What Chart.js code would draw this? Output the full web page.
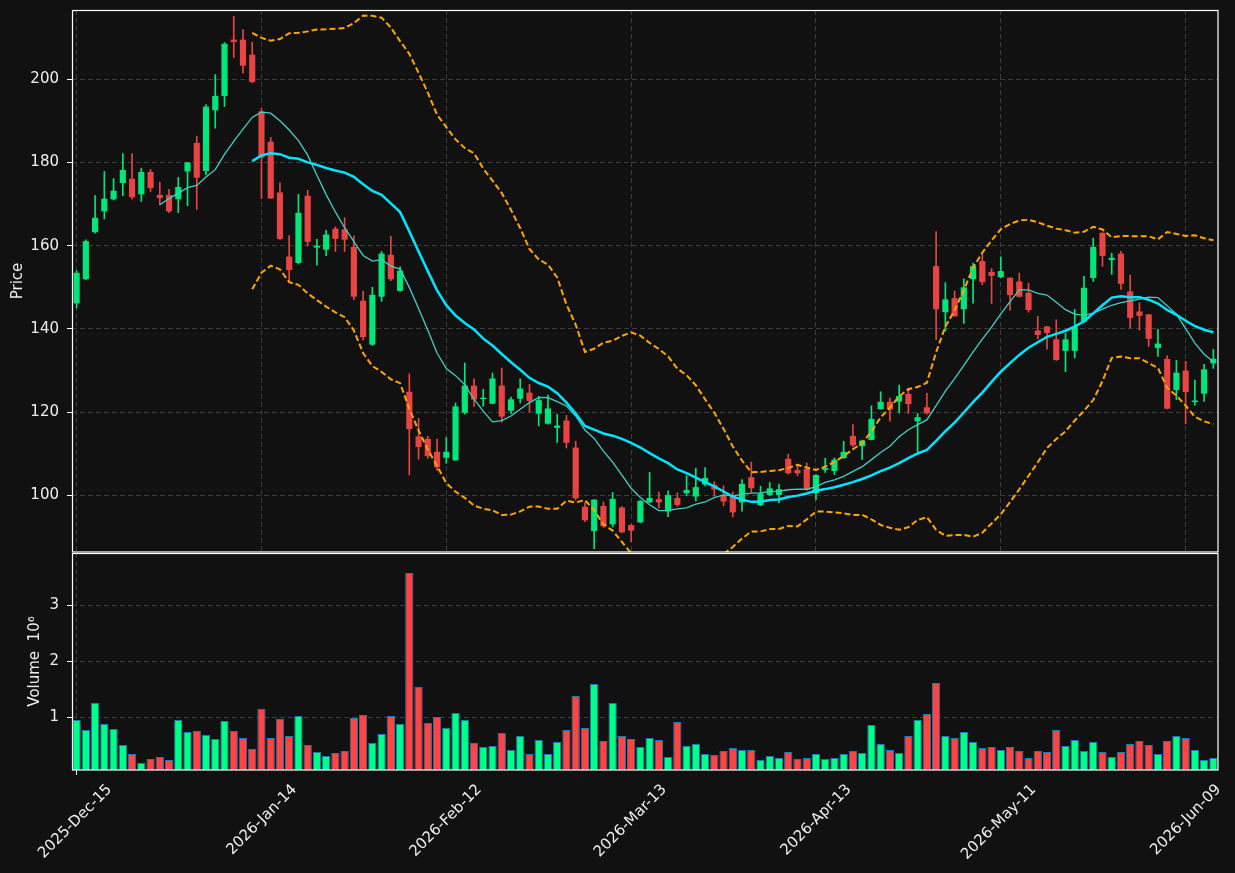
<!DOCTYPE html>
<html>
<head>
<meta charset="utf-8">
<script src="https://cdn.jsdelivr.net/npm/chart.js@4.4.1/dist/chart.umd.min.js"></script>
<style>
html, body { margin: 0; padding: 0; background: #111111; }
#wrap { position: relative; width: 1235px; height: 873px; }
canvas { position: absolute; left: 0; }
#price { top: 0; }
#volume { top: 553px; }
</style>
</head>
<body>
<div id="wrap">
  <canvas id="price" width="1235" height="553"></canvas>
  <canvas id="volume" width="1235" height="320"></canvas>
</div>
<script>
// trading days (US holidays skipped)
const dates = [
  '2025-12-15','2025-12-16','2025-12-17','2025-12-18','2025-12-19','2025-12-22','2025-12-23','2025-12-24','2025-12-26','2025-12-29','2025-12-30','2025-12-31',
  '2026-01-02','2026-01-05','2026-01-06','2026-01-07','2026-01-08','2026-01-09','2026-01-12','2026-01-13','2026-01-14','2026-01-15','2026-01-16','2026-01-20',
  '2026-01-21','2026-01-22','2026-01-23','2026-01-26','2026-01-27','2026-01-28','2026-01-29','2026-01-30',
  '2026-02-02','2026-02-03','2026-02-04','2026-02-05','2026-02-06','2026-02-09','2026-02-10','2026-02-11','2026-02-12','2026-02-13','2026-02-17','2026-02-18',
  '2026-02-19','2026-02-20','2026-02-23','2026-02-24','2026-02-25','2026-02-26','2026-02-27',
  '2026-03-02','2026-03-03','2026-03-04','2026-03-05','2026-03-06','2026-03-09','2026-03-10','2026-03-11','2026-03-12','2026-03-13','2026-03-16','2026-03-17',
  '2026-03-18','2026-03-19','2026-03-20','2026-03-23','2026-03-24','2026-03-25','2026-03-26','2026-03-27','2026-03-30','2026-03-31',
  '2026-04-01','2026-04-02','2026-04-06','2026-04-07','2026-04-08','2026-04-09','2026-04-10','2026-04-13','2026-04-14','2026-04-15','2026-04-16','2026-04-17',
  '2026-04-20','2026-04-21','2026-04-22','2026-04-23','2026-04-24','2026-04-27','2026-04-28','2026-04-29','2026-04-30',
  '2026-05-01','2026-05-04','2026-05-05','2026-05-06','2026-05-07','2026-05-08','2026-05-11','2026-05-12','2026-05-13','2026-05-14','2026-05-15','2026-05-18',
  '2026-05-19','2026-05-20','2026-05-21','2026-05-22','2026-05-26','2026-05-27','2026-05-28','2026-05-29',
  '2026-06-01','2026-06-02','2026-06-03','2026-06-04','2026-06-05','2026-06-08','2026-06-09','2026-06-10','2026-06-11','2026-06-12'
];

const open = [
  146.2,152.0,163.3,168.3,171.2,175.1,176.0,172.4,177.6,172.1,172.1,171.2,177.9,184.6,178.0,192.6,196.0,209.4,209.4,205.8,
  192.2,184.9,172.7,157.3,155.9,171.9,159.6,159.1,164.0,163.8,159.6,146.7,136.3,147.8,157.7,149.2,124.8,114.1,113.5,110.4,
  109.1,108.5,119.9,126.3,123.2,122.1,126.3,120.4,123.3,124.6,119.7,117.3,116.3,117.9,111.4,97.2,91.5,97.4,93.1,97.0,
  92.8,93.6,98.4,99.0,96.2,99.3,100.6,99.8,102.7,102.4,100.0,99.8,98.4,104.3,97.7,100.2,100.2,108.7,106.0,106.3,
  100.6,106.2,105.9,109.0,114.2,111.9,113.4,120.8,122.4,122.6,124.3,117.9,121.1,155.0,144.1,147.3,144.8,152.0,156.2,153.6,
  152.5,152.2,151.3,148.6,139.5,140.5,137.4,134.8,134.8,141.8,152.3,163.0,156.6,158.0,148.9,144.1,143.4,135.5,132.7,125.4,
  129.9,122.5,124.5,131.8
];
const high = [
  154.0,161.4,172.0,177.8,176.1,182.1,182.1,178.6,178.3,175.2,173.5,176.4,180.0,186.3,193.9,201.1,208.8,215.1,211.9,208.9,
  192.9,186.0,175.1,162.4,172.3,173.3,161.5,163.7,164.5,166.7,162.3,149.0,150.0,158.6,162.3,154.9,129.2,118.5,114.2,113.5,
  113.9,122.2,131.8,128.0,125.5,129.4,130.6,123.6,128.0,126.7,123.8,124.1,119.5,119.2,113.0,98.3,99.0,98.4,100.7,97.3,
  93.0,98.8,105.5,100.8,101.1,100.6,104.7,106.5,106.7,103.3,102.3,100.8,103.8,108.0,102.2,103.1,102.7,109.9,107.5,107.8,
  105.0,108.9,109.0,113.0,117.0,113.3,121.5,124.9,123.4,126.5,125.8,119.7,124.5,163.4,151.1,149.1,152.0,155.8,158.1,154.5,
  157.3,152.3,153.4,151.0,143.0,140.6,142.2,139.0,144.7,152.6,161.8,163.1,158.2,158.6,152.9,146.3,143.5,139.9,133.5,132.4,
  132.2,127.7,131.5,135.1
];
const low = [
  145.0,151.8,163.0,166.4,171.0,172.0,171.2,170.6,173.0,169.8,167.9,167.9,169.6,168.7,177.0,188.2,193.4,205.2,201.4,199.1,
  171.3,171.3,161.5,151.5,155.6,159.9,155.3,157.6,158.6,158.6,147.0,137.3,136.0,146.6,151.6,149.0,104.9,108.7,108.9,106.0,
  107.7,108.4,119.5,121.4,121.4,122.0,117.6,119.6,122.2,120.0,116.7,117.1,112.7,111.4,98.9,93.7,87.2,92.3,92.4,91.0,
  88.9,93.4,98.2,97.0,94.9,97.4,99.9,98.7,102.3,99.8,97.5,94.8,96.2,100.8,97.5,99.9,98.2,105.1,104.7,101.2,
  99.0,105.5,105.0,108.9,111.7,108.6,113.3,120.7,117.8,119.8,119.7,110.5,119.5,137.4,139.5,143.0,141.3,146.2,150.6,146.1,
  152.3,144.5,147.6,144.0,137.6,135.1,132.4,129.7,133.0,141.5,151.4,155.0,153.1,149.5,140.2,139.7,135.8,133.4,120.8,123.0,
  117.2,121.7,122.6,130.5
];
const close = [
  153.4,161.0,166.6,171.2,173.1,178.1,171.7,177.6,173.9,171.5,168.3,174.0,179.9,176.4,193.3,195.9,208.4,209.0,203.3,199.4,
  181.2,171.4,161.7,154.2,167.8,161.0,159.9,162.6,161.7,161.5,147.8,138.1,148.1,158.0,152.0,153.9,116.0,111.7,109.5,106.8,
  110.4,121.3,126.3,123.1,123.4,128.0,119.0,123.0,125.6,122.8,122.8,120.8,116.7,112.7,99.4,94.1,98.9,92.7,99.1,91.2,
  91.6,98.6,99.3,98.4,100.0,97.8,101.2,101.9,104.1,101.5,98.6,96.0,102.7,101.8,100.4,101.6,101.4,105.4,105.4,101.4,
  104.8,106.5,108.5,110.4,112.1,113.1,118.3,122.4,120.7,123.8,122.0,118.7,119.8,144.8,147.0,143.1,149.9,155.0,151.3,152.8,
  153.8,148.2,147.8,144.6,138.6,139.1,132.6,137.4,140.4,149.8,159.6,157.6,157.0,150.9,142.7,143.2,137.7,136.4,120.9,129.4,
  124.9,122.7,130.2,132.7
];
const volume = [
  946000,768000,1250000,875000,786000,500000,339000,179000,250000,286000,232000,946000,732000,750000,679000,607000,929000,750000,625000,429000,
  1143000,625000,964000,661000,1018000,500000,375000,304000,357000,393000,982000,1036000,536000,696000,1018000,875000,3571000,1536000,893000,1000000,
  804000,1071000,946000,536000,464000,482000,714000,411000,661000,339000,589000,339000,554000,768000,1375000,804000,1589000,571000,1250000,661000,
  607000,464000,625000,589000,286000,911000,482000,518000,339000,321000,393000,446000,411000,411000,232000,304000,268000,375000,250000,268000,
  339000,250000,268000,339000,393000,357000,857000,518000,411000,357000,661000,946000,1054000,1607000,661000,625000,732000,554000,446000,464000,
  411000,464000,393000,268000,393000,375000,768000,482000,589000,393000,554000,375000,286000,375000,518000,571000,500000,339000,571000,661000,
  625000,411000,232000,268000
];
const priceTicks = [100, 120, 140, 160, 180, 200];
const volumeTicks = [1000000, 2000000, 3000000];
const labelEvery = 20;

const months = ['Jan','Feb','Mar','Apr','May','Jun','Jul','Aug','Sep','Oct','Nov','Dec'];
function fmtDate(s) {
  const p = s.split('-');
  return p[0] + '-' + months[parseInt(p[1], 10) - 1] + '-' + p[2];
}

// moving averages / bollinger bands from the closes
function sma(arr, n) {
  return arr.map((v, i) => {
    if (i < n - 1) return null;
    let s = 0;
    for (let k = i - n + 1; k <= i; k++) s += arr[k];
    return s / n;
  });
}
function band(arr, n, mult) {
  const mid = sma(arr, n);
  return arr.map((v, i) => {
    if (mid[i] === null) return null;
    let s = 0;
    for (let k = i - n + 1; k <= i; k++) s += (arr[k] - mid[i]) ** 2;
    return mid[i] + mult * Math.sqrt(s / n);
  });
}
const ma10 = sma(close, 10);
const ma20 = sma(close, 20);
const bbUp = band(close, 20, 2);
const bbLow = band(close, 20, -2);

const UP = '#00e67a', DOWN = '#e84444';
const VUP = '#00ff88', VDOWN = '#ff4444';
const candleCol = close.map((c, i) => c >= open[i] ? UP : DOWN);
const volCol = close.map((c, i) => c >= open[i] ? VUP : VDOWN);

const TXT = '#eeeeee';
const GRID = '#3c3c3c';
const FONT = { family: 'DejaVu Sans', size: 15 };

const frame = {
  id: 'frame',
  afterDraw(chart) {
    const a = chart.chartArea, ctx = chart.ctx;
    ctx.save();
    ctx.strokeStyle = '#ffffff';
    ctx.lineWidth = 1.2;
    const l = Math.round(a.left) + 0.5, t = Math.round(a.top) + 0.5;
    ctx.strokeRect(l, t, Math.round(a.right) - l, Math.round(a.bottom) - t);
    ctx.restore();
  }
};

const xGridColor = c => (c.index % labelEvery === 0 ? GRID : 'transparent');

new Chart(document.getElementById('price'), {
  type: 'bar',
  data: {
    labels: dates,
    datasets: [
      { type: 'line', data: bbUp, borderColor: '#ffa500', borderWidth: 2, borderDash: [6, 3], pointRadius: 0, order: 0 },
      { type: 'line', data: bbLow, borderColor: '#ffa500', borderWidth: 2, borderDash: [6, 3], pointRadius: 0, order: 0 },
      { type: 'line', data: ma20, borderColor: '#00e5ff', borderWidth: 2.5, pointRadius: 0, order: 0 },
      { type: 'line', data: ma10, borderColor: '#3fd0c4', borderWidth: 1.3, pointRadius: 0, order: 0 },
      { data: open.map((o, i) => [o, close[i]]), backgroundColor: candleCol, barThickness: 5.5, grouped: false, order: 1 },
      { data: low.map((l, i) => [l, high[i]]), backgroundColor: candleCol, barThickness: 1, grouped: false, order: 2 }
    ]
  },
  options: {
    responsive: false,
    animation: false,
    plugins: { legend: { display: false }, tooltip: { enabled: false } },
    layout: { padding: { top: 10, right: 17, bottom: 1, left: 0 } },
    scales: {
      x: {
        offset: true,
        ticks: { display: false, autoSkip: false },
        grid: { offset: false, color: xGridColor, drawTicks: false },
        border: { display: false, dash: [5, 3] },
        afterFit(s) { s.height = 0; s.paddingLeft = 0; s.paddingRight = 0; }
      },
      y: {
        min: 86.4, max: 216.6,
        afterBuildTicks(s) { s.ticks = priceTicks.map(v => ({ value: v })); },
        ticks: { color: TXT, font: FONT, padding: 8 },
        grid: { color: GRID, tickColor: '#ffffff', tickLength: 5 },
        border: { display: false, dash: [5, 3] },
        title: { display: true, text: 'Price', color: TXT, font: FONT, padding: { top: 9, bottom: 0 } },
        afterFit(s) { s.width = 72; s.paddingTop = 0; s.paddingBottom = 0; }
      }
    }
  },
  plugins: [frame]
});

new Chart(document.getElementById('volume'), {
  type: 'bar',
  data: {
    labels: dates,
    datasets: [
      { data: volume, backgroundColor: volCol, borderColor: '#1f77b4', borderWidth: 1, barPercentage: 0.9, categoryPercentage: 1 }
    ]
  },
  options: {
    responsive: false,
    animation: false,
    plugins: { legend: { display: false }, tooltip: { enabled: false } },
    layout: { padding: { top: 0, right: 17, bottom: 0, left: 0 } },
    scales: {
      x: {
        offset: true,
        ticks: {
          autoSkip: false, minRotation: 45, maxRotation: 45, color: TXT, font: FONT,
          padding: 6, labelOffset: 33,
          callback: (v, i) => (i % labelEvery === 0 ? fmtDate(dates[i]) : null)
        },
        grid: { offset: false, color: xGridColor, tickColor: c => (c.index % labelEvery === 0 ? '#ffffff' : 'transparent'), tickLength: 5 },
        border: { display: false, dash: [5, 3] },
        afterFit(s) { s.height = 103; s.paddingLeft = 0; s.paddingRight = 0; }
      },
      y: {
        min: 55000, max: 3930000,
        afterBuildTicks(s) { s.ticks = volumeTicks.map(v => ({ value: v })); },
        ticks: { color: TXT, font: FONT, padding: 8, callback: v => String(v / 1000000) },
        grid: { color: GRID, tickColor: '#ffffff', tickLength: 5 },
        border: { display: false, dash: [5, 3] },
        title: { display: true, text: 'Volume  10\u2076', color: TXT, font: FONT, padding: { top: 26, bottom: 0 } },
        afterFit(s) { s.width = 72; s.paddingTop = 0; s.paddingBottom = 0; }
      }
    }
  },
  plugins: [frame]
});
</script>
</body>
</html>
